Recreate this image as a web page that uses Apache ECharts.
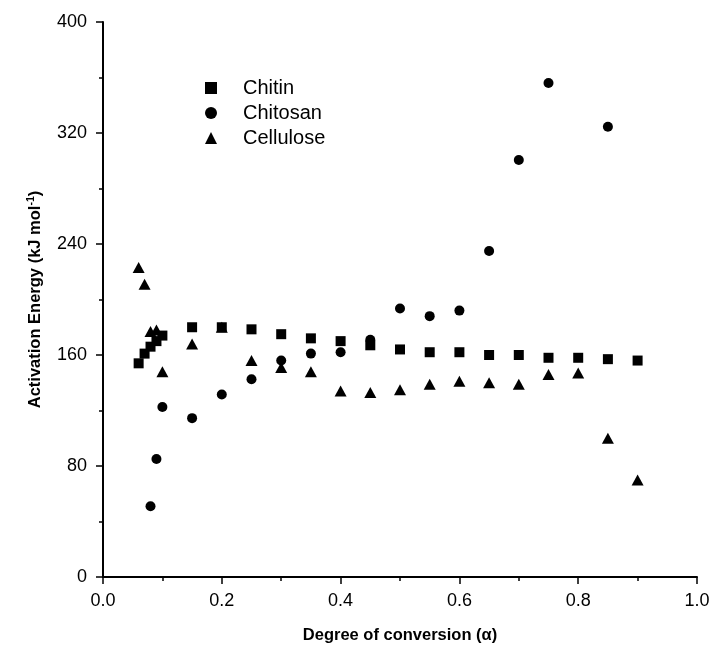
<!DOCTYPE html>
<html>
<head>
<meta charset="utf-8">
<script src="https://cdn.jsdelivr.net/npm/echarts@6/dist/echarts.min.js"></script>
<style>
  html, body { margin: 0; padding: 0; background: #fff; }
  #chart { width: 713px; height: 651px; }
</style>
</head>
<body>
<div id="chart"></div>
<script>
// degree of conversion vs activation energy (kJ/mol)
const chitinAlpha = [0.06, 0.07, 0.08, 0.09, 0.1, 0.15, 0.2, 0.25, 0.3, 0.35, 0.4, 0.45, 0.5, 0.55, 0.6, 0.65, 0.7, 0.75, 0.8, 0.85, 0.9]
const chitinEa = [154, 161, 166, 170, 174, 180, 180, 178.5, 175, 172, 170, 167, 164, 162, 162, 160, 160, 158, 158, 157, 156]

const chitosanAlpha = [0.08, 0.09, 0.1, 0.15, 0.2, 0.25, 0.3, 0.35, 0.4, 0.45, 0.5, 0.55, 0.6, 0.65, 0.7, 0.75, 0.85]
const chitosanEa = [51, 85, 122.5, 114.5, 131.5, 142.5, 156, 161, 162, 171, 193.5, 188, 192, 235, 300.5, 356, 324.5]

const celluloseAlpha = [0.06, 0.07, 0.08, 0.09, 0.1, 0.15, 0.2, 0.25, 0.3, 0.35, 0.4, 0.45, 0.5, 0.55, 0.6, 0.65, 0.7, 0.75, 0.8, 0.85, 0.9]
const celluloseEa = [223, 211, 177, 178, 148, 168, 180, 156, 151, 148, 134, 133, 135, 139, 141, 140, 139, 146, 147, 100, 70]

const seriesNames = ['Chitin', 'Chitosan', 'Cellulose']
const xTicks = [0, 0.2, 0.4, 0.6, 0.8, 1.0]
const yTicks = [0, 80, 160, 240, 320, 400]

const font = '"Liberation Sans", Arial, sans-serif'
const pair = (xs, ys) => xs.map((x, i) => [x, ys[i]])

const chart = echarts.init(document.getElementById('chart'))

const axisCommon = {
  axisLine: { show: true, onZero: false, lineStyle: { color: '#000', width: 2 } },
  axisTick: { show: true, inside: false, length: 7, lineStyle: { color: '#000', width: 1.5 } },
  minorTick: { show: true, splitNumber: 2, length: 4, lineStyle: { color: '#000', width: 1.5 } },
  splitLine: { show: false },
  nameLocation: 'middle',
  nameTextStyle: { fontFamily: font, fontWeight: 'bold', fontSize: 16.5, color: '#000' }
}

chart.setOption({
  animation: false,
  backgroundColor: '#fff',
  grid: { left: 103, right: 16, top: 22, bottom: 74 },
  legend: {
    orient: 'vertical',
    left: 200,
    top: 73,
    itemWidth: 12,
    itemHeight: 12,
    itemGap: 5,
    textStyle: { fontFamily: font, fontSize: 20, color: '#000', padding: [0, 0, 0, 21] },
    data: seriesNames
  },
  xAxis: {
    ...axisCommon,
    type: 'value',
    min: xTicks[0],
    max: xTicks[xTicks.length - 1],
    interval: 0.2,
    name: 'Degree of conversion (α)',
    nameGap: 50,
    axisLabel: {
      margin: 15, fontFamily: font, fontSize: 18, color: '#000',
      formatter: v => v.toFixed(1)
    }
  },
  yAxis: {
    ...axisCommon,
    type: 'value',
    min: yTicks[0],
    max: yTicks[yTicks.length - 1],
    interval: 80,
    name: 'Activation Energy (kJ mol{sup|-1})',
    nameGap: 58,
    nameTextStyle: {
      ...axisCommon.nameTextStyle,
      rich: { sup: { fontFamily: font, fontWeight: 'bold', fontSize: 10.5, padding: [0, 0, 8, 0], color: '#000' } }
    },
    axisLabel: { margin: 16, fontFamily: font, fontSize: 18, color: '#000' }
  },
  series: [
    {
      name: seriesNames[0], type: 'scatter', symbol: 'rect', symbolSize: 10,
      itemStyle: { color: '#000', opacity: 1 },
      data: pair(chitinAlpha, chitinEa)
    },
    {
      name: seriesNames[1], type: 'scatter', symbol: 'circle', symbolSize: 10,
      itemStyle: { color: '#000', opacity: 1 },
      data: pair(chitosanAlpha, chitosanEa)
    },
    {
      name: seriesNames[2], type: 'scatter', symbol: 'triangle', symbolSize: [12, 11],
      itemStyle: { color: '#000', opacity: 1 },
      data: pair(celluloseAlpha, celluloseEa)
    }
  ]
})
</script>
</body>
</html>
